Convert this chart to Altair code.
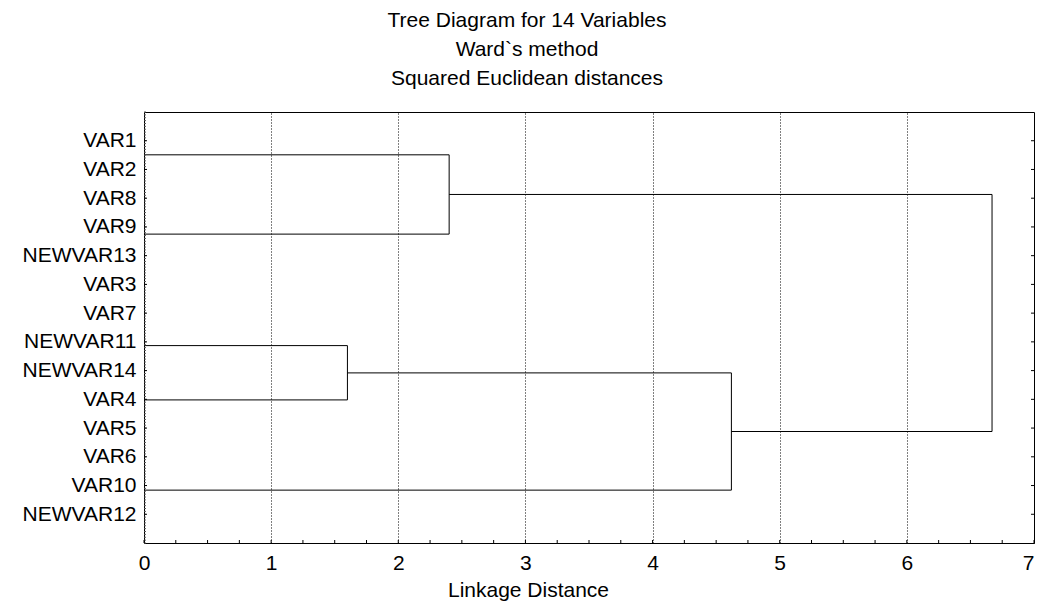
import altair as alt
import pandas as pd

# Leaf labels (top to bottom) and their positions on the y scale
labels = ["VAR1", "VAR2", "VAR8", "VAR9", "NEWVAR13", "VAR3", "VAR7",
          "NEWVAR11", "NEWVAR14", "VAR4", "VAR5", "VAR6", "VAR10", "NEWVAR12"]
label_pos = list(range(1, 15))

# Merges: child 1 (y, start x), child 2 (y, start x), linkage distance
merge_y1 = [1.49, 8.13, 9.08, 2.87]
merge_x1 = [0.0, 0.0, 1.60, 2.40]
merge_y2 = [4.25, 10.02, 13.16, 11.12]
merge_x2 = [0.0, 0.0, 0.0, 4.62]
merge_h = [2.40, 1.60, 4.62, 6.67]

x_ticks = list(range(0, 8))
x_minor = [i * 0.25 for i in range(0, 29)]
y_minor = [i * 0.1 for i in range(0, 151)]

W, H = 890, 431
FONT = "Liberation Sans"

segs = []
for y1, x1, y2, x2, h in zip(merge_y1, merge_x1, merge_y2, merge_x2, merge_h):
    segs.append(dict(x=x1, x2=h, y=y1, y2=y1))
    segs.append(dict(x=x2, x2=h, y=y2, y2=y2))
    segs.append(dict(x=h, x2=h, y=y1, y2=y2))
seg_df = pd.DataFrame(segs)

xs = alt.Scale(domain=[0, 7], nice=False, zero=False)
ys = alt.Scale(domain=[0, 15], reverse=True, nice=False, zero=False)

label_expr = "[''," + ",".join("'%s'" % l for l in labels) + ",''][datum.value]"

x_axis = alt.Axis(
    values=x_ticks, grid=True, gridDash=[1, 2], gridColor="#000", gridOpacity=1,
    ticks=False, domain=False, labelFont=FONT, labelFontSize=21, labelColor="#000",
    labelPadding=9, labelFlush=False,
    labelAlign={"condition": {"test": "datum.value == 7", "value": "right"},
                "value": "center"},
    title="Linkage Distance", titleFont=FONT,
    titleFontSize=21, titleFontWeight="normal", titleColor="#000", titleX=384,
    titleY=53, titleBaseline="alphabetic", titleAlign="center")
y_axis = alt.Axis(
    values=label_pos, labelExpr=label_expr, grid=False, ticks=False, domain=False,
    labelFont=FONT, labelFontSize=21, labelColor="#000", labelPadding=8,
    labelBaseline="middle", title=None)

tree = alt.Chart(seg_df).mark_rule(color="#000", strokeWidth=1).encode(
    x=alt.X("x:Q", scale=xs, axis=x_axis),
    x2="x2:Q",
    y=alt.Y("y:Q", scale=ys, axis=y_axis),
    y2="y2:Q",
)

lab_df = pd.DataFrame({"p": label_pos})
left_ticks = alt.Chart(lab_df).mark_rule(color="#000").encode(
    y=alt.Y("p:Q", scale=ys, axis=y_axis), x=alt.value(0), x2=alt.value(3))
right_ticks = alt.Chart(lab_df).mark_rule(color="#000").encode(
    y=alt.Y("p:Q", scale=ys, axis=y_axis), x=alt.value(W - 3), x2=alt.value(W))

ym_df = pd.DataFrame({"p": y_minor})
left_minor = alt.Chart(ym_df).mark_rule(color="#555").encode(
    y=alt.Y("p:Q", scale=ys, axis=y_axis), x=alt.value(0), x2=alt.value(2))

xm_df = pd.DataFrame({"v": x_minor})
bottom_ticks = alt.Chart(xm_df).mark_rule(color="#000").encode(
    x=alt.X("v:Q", scale=xs, axis=x_axis), y=alt.value(H - 3), y2=alt.value(H))

chart = alt.layer(tree, left_minor, left_ticks, right_ticks, bottom_ticks).properties(
    width=W, height=H,
    title=alt.Title(["Tree Diagram for 14 Variables", "Ward`s method",
                     "Squared Euclidean distances"],
                    font=FONT, fontSize=21, fontWeight="normal", color="#000",
                    lineHeight=29, anchor="middle", dx=-62, offset=23),
    autosize=alt.AutoSizeParams(type="none"),
    padding={"left": 136, "top": 104, "right": 2, "bottom": 58},
).configure(background="white").configure_view(stroke="#000", strokeWidth=1)

chart.save("out.html", embed_options={"renderer": "svg", "actions": False})
